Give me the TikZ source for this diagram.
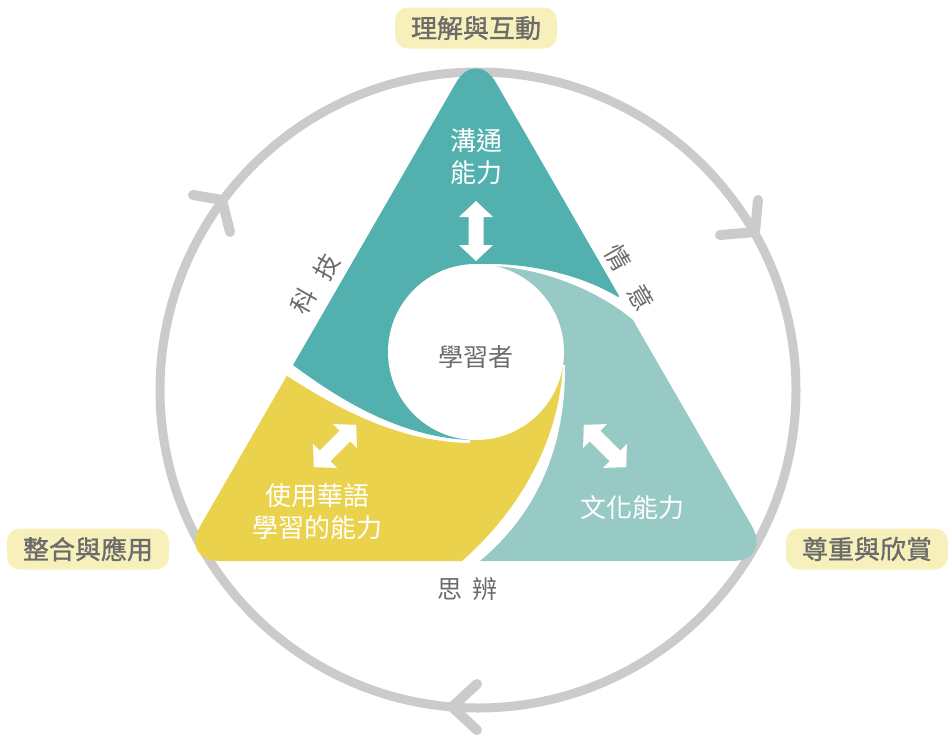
\documentclass[tikz,border=0pt]{standalone}
\usepackage{fontspec}
\setmainfont{Noto Sans CJK TC}
\newfontfamily\cjkbold[FakeBold=1.2]{Noto Sans CJK TC}
\usetikzlibrary{calc}
\definecolor{tealdark}{HTML}{52B1AE}
\definecolor{teallight}{HTML}{97C9C5}
\definecolor{sunyellow}{HTML}{EAD24C}
\definecolor{ringgray}{HTML}{CACBCA}
\definecolor{tagyellow}{HTML}{F7F0BB}
\definecolor{txtgray}{HTML}{6B6B6B}
\tikzset{
  ring/.style={ringgray, line width=9pt},
  chevron/.style={ringgray, line width=10pt, line cap=round, line join=round},
  tag/.style={fill=tagyellow, rounded corners=13pt, text=txtgray, inner sep=0pt,
    font=\cjkbold\fontsize{26}{30}\selectfont, minimum width=162pt, minimum height=41pt},
  sector/.style={text=white, font=\fontsize{26}{32}\selectfont, align=center, inner sep=0pt},
  edgeword/.style={text=txtgray, font=\fontsize{25}{30}\selectfont, inner sep=0pt},
  dblarrow/.pic={
    \fill[white] (-30,0) -- (-14,17) -- (-14,7.5) -- (14,7.5) -- (14,17) -- (30,0)
      -- (14,-17) -- (14,-7.5) -- (-14,-7.5) -- (-14,-17) -- cycle;
  }
}

\begin{document}
\begin{tikzpicture}[x=1pt,y=-1pt]
\useasboundingbox (0,0) rectangle (948,739);
\draw[ring] (478,390) circle (318pt);
\foreach \a/\b/\c in {{(193,195)}/{(222,200)}/{(230,232)},{(758,200)}/{(755,232)}/{(720,235)},{(477,684)}/{(452,707)}/{(477,730)}}
  \draw[chevron] \a -- \b -- \c;
\begin{scope}
\clip[rounded corners=40pt] (476,561) -- (772,561) -- (476,48) -- (180,561) -- cycle;
\fill[teallight] (490,266) .. controls (545,268) and (600,292) .. (633,320) -- (800,320) -- (800,600)
  -- (480,600) -- (480,561) .. controls (535,515) and (566,450) .. (565,365) -- (476,352) -- cycle;
\fill[tealdark] (476,264) .. controls (540,262) and (590,280) .. (618,297) -- (700,250) -- (700,0)
  -- (100,0) -- (100,300) -- (293,365) .. controls (340,400) and (400,437) .. (470,440) -- (476,352) -- cycle;
\fill[sunyellow] (287,376) .. controls (340,410) and (400,442) .. (470,443) -- (476,352) -- (563,362)
  .. controls (560,440) and (520,510) .. (462,561) -- (462,620) -- (100,620) -- (100,330) -- cycle;
\end{scope}
\fill[white] (476,352) circle (88pt);
\pic[rotate=90] (commarrow) at (476,231) {dblarrow};
\pic[rotate=45] (langarrow) at (335,446) {dblarrow};
\pic[rotate=-45] (cultarrow) at (605,446) {dblarrow};
\node[tag] (interact) at (476,28) {理解與互動};
\node[tag] (integrate) at (88,549) {整合與應用};
\node[tag] (respect) at (867,549) {尊重與欣賞};
\node[sector] (comm) at (476,157) {溝通\\能力};
\node[sector] (chinese) at (317,512) {使用華語\\學習的能力};
\node[sector] (culture) at (632,508) {文化能力};
\node[edgeword] (learner) at (476,357) {學習者};
\node[edgeword] (think) at (467,589) {思\hspace{10pt}辨};
\node[edgeword, rotate=60] (techa) at (303,301) {科};
\node[edgeword, rotate=60] (techb) at (327,267) {技};
\node[edgeword, rotate=-60] (emoa) at (618,258) {情};
\node[edgeword, rotate=-60] (emob) at (641,297) {意};
\end{tikzpicture}
\end{document}
